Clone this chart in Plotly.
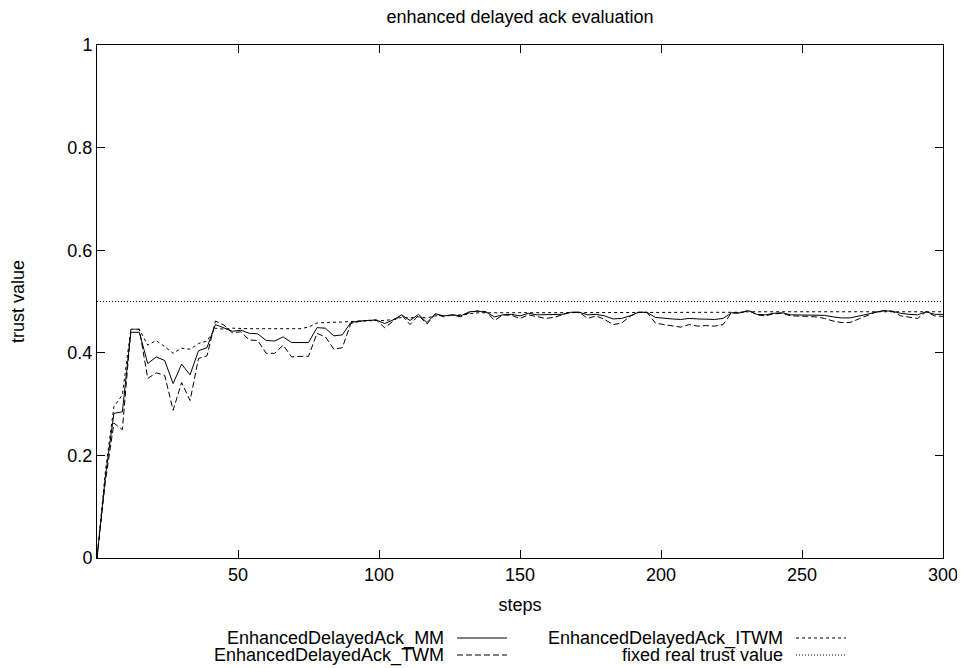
import plotly.graph_objects as go

steps = list(range(0, 301, 3))

mm = [0.000, 0.160, 0.282, 0.285, 0.440, 0.440, 0.379, 0.392, 0.385, 0.340,
      0.378, 0.357, 0.404, 0.410, 0.455, 0.448, 0.442, 0.444, 0.438, 0.437,
      0.424, 0.423, 0.431, 0.420, 0.420, 0.420, 0.449, 0.448, 0.433, 0.435,
      0.459, 0.462, 0.463, 0.464, 0.457, 0.464, 0.474, 0.463, 0.475, 0.459,
      0.476, 0.472, 0.474, 0.472, 0.480, 0.481, 0.479, 0.470, 0.474, 0.475,
      0.472, 0.477, 0.474, 0.474, 0.474, 0.475, 0.479, 0.479, 0.474, 0.475,
      0.472, 0.466, 0.467, 0.472, 0.479, 0.479, 0.469, 0.467, 0.466, 0.465,
      0.467, 0.466, 0.466, 0.465, 0.467, 0.478, 0.478, 0.482, 0.475, 0.474,
      0.477, 0.478, 0.474, 0.474, 0.474, 0.473, 0.473, 0.470, 0.468, 0.468,
      0.471, 0.475, 0.479, 0.482, 0.481, 0.477, 0.475, 0.474, 0.480, 0.475,
      0.475]

twm = [0.000, 0.150, 0.263, 0.250, 0.446, 0.446, 0.350, 0.361, 0.356, 0.288,
       0.342, 0.307, 0.389, 0.394, 0.462, 0.454, 0.439, 0.441, 0.425, 0.424,
       0.399, 0.399, 0.415, 0.392, 0.393, 0.393, 0.438, 0.431, 0.407, 0.410,
       0.457, 0.461, 0.463, 0.464, 0.449, 0.462, 0.474, 0.455, 0.473, 0.456,
       0.476, 0.470, 0.474, 0.470, 0.478, 0.482, 0.480, 0.463, 0.474, 0.473,
       0.467, 0.474, 0.470, 0.467, 0.469, 0.474, 0.479, 0.479, 0.467, 0.472,
       0.465, 0.455, 0.458, 0.471, 0.479, 0.479, 0.458, 0.455, 0.452, 0.450,
       0.455, 0.452, 0.453, 0.452, 0.455, 0.478, 0.477, 0.483, 0.474, 0.472,
       0.476, 0.477, 0.472, 0.472, 0.471, 0.470, 0.467, 0.462, 0.459, 0.459,
       0.466, 0.473, 0.479, 0.482, 0.481, 0.472, 0.469, 0.467, 0.480, 0.472,
       0.471]

itwm = [0.000, 0.170, 0.295, 0.318, 0.446, 0.446, 0.415, 0.424, 0.412, 0.399,
        0.409, 0.407, 0.418, 0.423, 0.448, 0.446, 0.448, 0.447, 0.447, 0.447,
        0.447, 0.447, 0.447, 0.447, 0.447, 0.450, 0.458, 0.459, 0.459, 0.460,
        0.461, 0.462, 0.463, 0.463, 0.463, 0.465, 0.469, 0.468, 0.470, 0.468,
        0.472, 0.472, 0.473, 0.474, 0.476, 0.478, 0.478, 0.478, 0.478, 0.478,
        0.478, 0.478, 0.478, 0.478, 0.478, 0.478, 0.478, 0.478, 0.478, 0.478,
        0.478, 0.478, 0.478, 0.478, 0.479, 0.479, 0.479, 0.479, 0.479, 0.479,
        0.479, 0.479, 0.479, 0.479, 0.479, 0.479, 0.479, 0.480, 0.480, 0.480,
        0.480, 0.480, 0.480, 0.480, 0.480, 0.480, 0.480, 0.480, 0.480, 0.480,
        0.480, 0.480, 0.480, 0.480, 0.480, 0.480, 0.480, 0.480, 0.480, 0.480,
        0.480]

real_trust = 0.5
x_ticks = [50, 100, 150, 200, 250, 300]
y_ticks = [0, 0.2, 0.4, 0.6, 0.8, 1]
y_tick_text = ["0", "0.2", "0.4", "0.6", "0.8", "1"]

names = ["EnhancedDelayedAck_MM", "EnhancedDelayedAck_TWM",
         "EnhancedDelayedAck_ITWM", "fixed real trust value"]
dashes = ["solid", "6px,3px", "3px,3px", "1px,2px"]

FONT = "Liberation Sans, Arial, sans-serif"
FS = 18

fig = go.Figure()
fig.add_trace(go.Scatter(x=steps, y=mm, mode="lines", name=names[0],
                         line=dict(color="black", width=1, dash=dashes[0])))
fig.add_trace(go.Scatter(x=steps, y=twm, mode="lines", name=names[1],
                         line=dict(color="black", width=1, dash=dashes[1])))
fig.add_trace(go.Scatter(x=steps, y=itwm, mode="lines", name=names[2],
                         line=dict(color="black", width=1, dash=dashes[2])))
fig.add_trace(go.Scatter(x=[0, 300], y=[real_trust, real_trust], mode="lines",
                         name=names[3],
                         line=dict(color="black", width=1, dash=dashes[3])))

# page body has an 8px margin: the figure starts at screen (8, 8)
OFF = 8
# plot area in screen pixels
PL, PR, PT, PB = 97, 943, 45, 558
W, H = float(PR - PL), float(PB - PT)

# gnuplot-style legend: right-aligned text followed by a line sample
legend_pos = [(442, 638), (442, 655), (781, 638), (781, 655)]
annotations = []
shapes = []
for (xr, yr), name, dash in zip(legend_pos, names, dashes):
    px = (xr - PL) / W
    py = (PB - yr) / H
    annotations.append(dict(x=px, y=py, xref="paper", yref="paper",
                            text=name, showarrow=False, xanchor="right",
                            yanchor="middle", xshift=3, borderpad=0,
                            font=dict(family=FONT, size=FS, color="black")))
    x0 = (xr + 15 - PL) / W
    x1 = (xr + 65 - PL) / W
    shapes.append(dict(type="line", xref="paper", yref="paper",
                       x0=x0, x1=x1, y0=py, y1=py,
                       line=dict(color="black", width=1, dash=dash)))

FIG_W, FIG_H = 965 - OFF, 668 - OFF
fig.update_layout(
    template="none",
    width=FIG_W, height=FIG_H,
    margin=dict(l=PL - OFF, r=965 - PR, t=PT - OFF, b=668 - PB, pad=0,
                autoexpand=False),
    paper_bgcolor="white", plot_bgcolor="white",
    showlegend=False,
    font=dict(family=FONT, size=FS, color="black"),
    title=dict(text="enhanced delayed ack evaluation", x=(520 - OFF) / FIG_W,
               xanchor="center", y=1 - (17 - OFF) / FIG_H, yanchor="middle",
               font=dict(family=FONT, size=FS, color="black")),
    annotations=annotations,
    shapes=shapes,
)
fig.update_xaxes(range=[0, 300], tickvals=x_ticks, ticks="inside", ticklen=8,
                 tickcolor="black", automargin=False,
                 showline=True, linecolor="black", linewidth=1, mirror="ticks",
                 showgrid=False, zeroline=False,
                 title=dict(text="steps", standoff=14, font=dict(size=FS)))
fig.update_yaxes(range=[0, 1], tickvals=y_ticks, ticktext=y_tick_text,
                 ticks="inside", ticklen=8, tickcolor="black", automargin=False,
                 showline=True, linecolor="black", linewidth=1, mirror="ticks",
                 showgrid=False, zeroline=False,
                 title=dict(text="trust value", standoff=38, font=dict(size=FS)))

fig.write_html("out.html")
